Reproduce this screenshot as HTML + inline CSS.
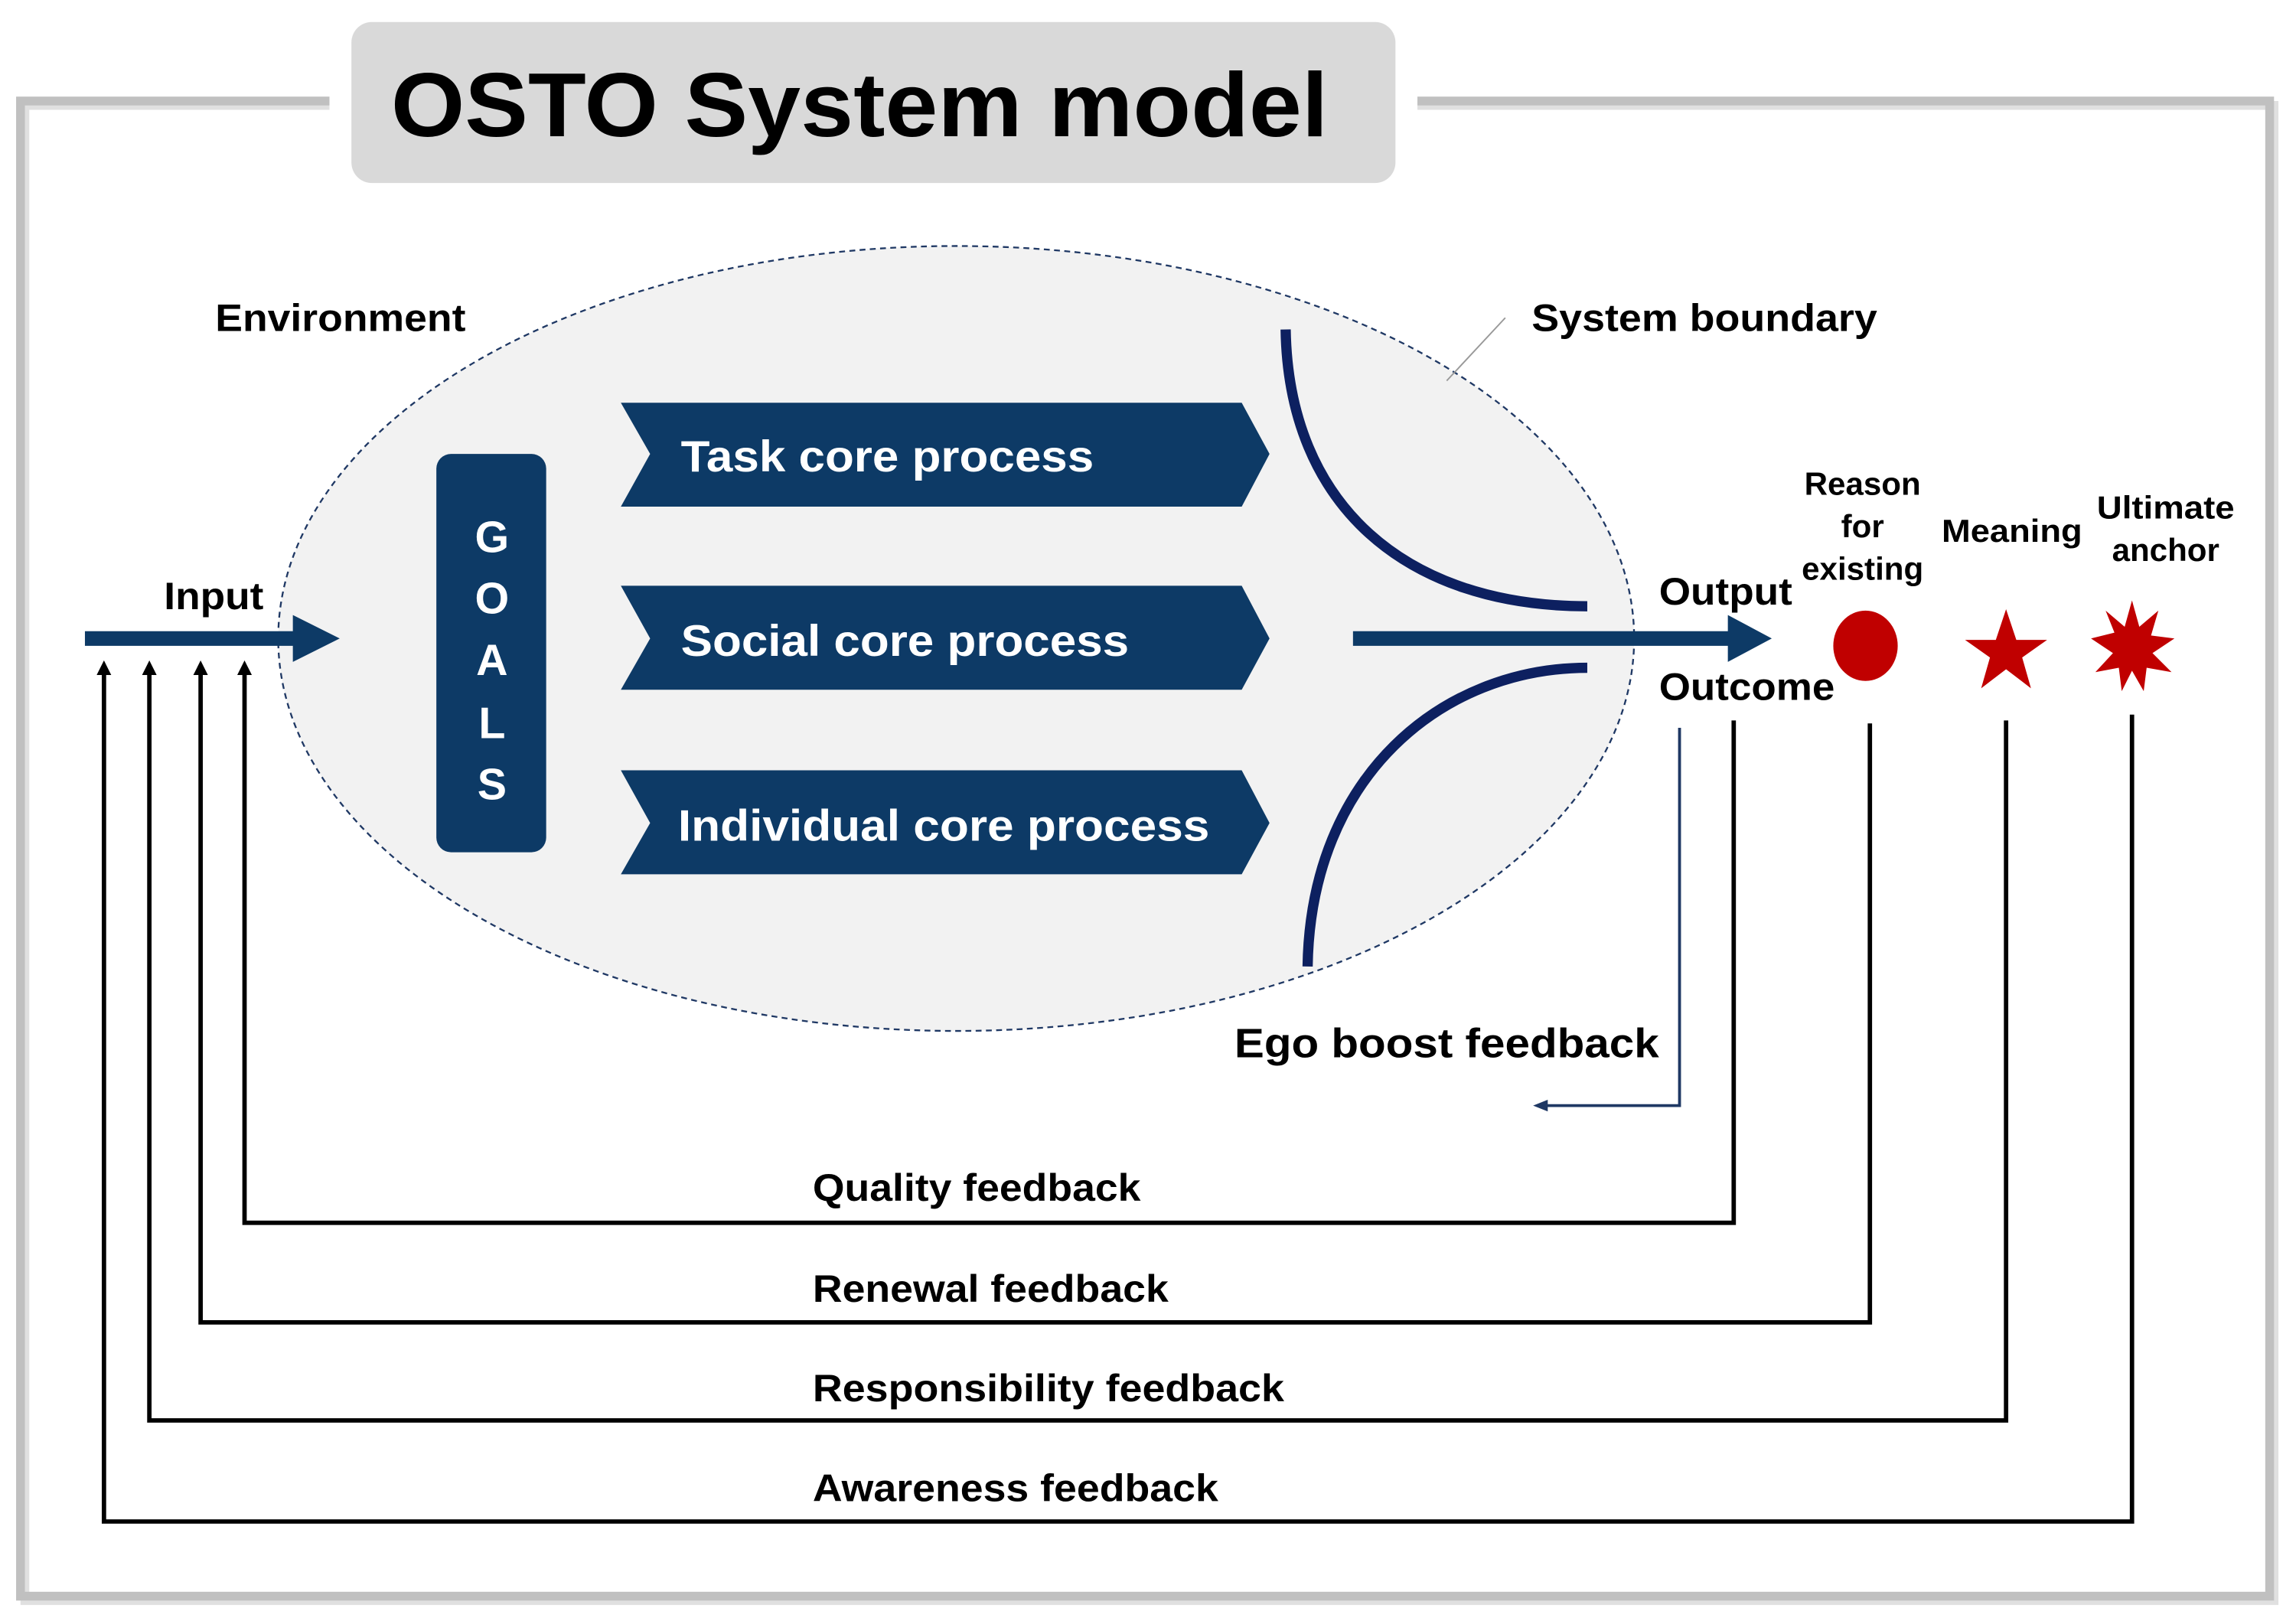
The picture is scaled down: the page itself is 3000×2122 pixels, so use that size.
<!DOCTYPE html>
<html><head><meta charset="utf-8"><style>
html,body{margin:0;padding:0;background:#fff;}
svg{display:block;}
text{font-family:"Liberation Sans",Arial,sans-serif;font-weight:bold;}
</style></head><body>
<svg width="3000" height="2122" viewBox="0 0 1568 1109" preserveAspectRatio="none" xmlns="http://www.w3.org/2000/svg">
<defs>
<marker id="ah" markerWidth="10" markerHeight="10" refX="5" refY="5" orient="auto" markerUnits="userSpaceOnUse">
<path d="M0,0 L10,5 L0,10 z" fill="#000"/></marker>
<marker id="ahb" markerWidth="10" markerHeight="8" refX="5" refY="4" orient="auto" markerUnits="userSpaceOnUse">
<path d="M0,0 L10,4 L0,8 z" fill="#1f3864"/></marker>
</defs>
<path d="M225 72 H17 V1093 H1553 V72 H968" fill="none" stroke="#e0e0e0" stroke-width="6"/>
<path d="M225 69 H14 V1090 H1550 V69 H968" fill="none" stroke="#c0c0c0" stroke-width="6"/>
<rect x="240" y="15" width="713" height="110" rx="14" fill="#d9d9d9"/>
<text x="267" y="93" font-size="62" fill="#000" textLength="640" lengthAdjust="spacingAndGlyphs">OSTO System model</text>
<ellipse cx="653" cy="436" rx="463" ry="268" fill="#f2f2f2" stroke="#1f3864" stroke-width="1.2" stroke-dasharray="4,3"/>
<rect x="298" y="310" width="75" height="272" rx="10" fill="#0d3a66"/>
<g fill="#fff" font-size="30" text-anchor="middle">
<text x="336" y="377">G</text><text x="336" y="419">O</text><text x="336" y="461">A</text><text x="336" y="504">L</text><text x="336" y="546">S</text>
</g>
<g fill="#0d3a66">
<path d="M424 275 H848 L867 310 L848 346 H424 L444 310 Z"/>
<path d="M424 400 H848 L867 436 L848 471 H424 L444 436 Z"/>
<path d="M424 526 H848 L867 562 L848 597 H424 L444 562 Z"/>
</g>
<g fill="#fff" font-size="30">
<text x="465" y="322" textLength="282" lengthAdjust="spacingAndGlyphs">Task core process</text>
<text x="465" y="448" textLength="306" lengthAdjust="spacingAndGlyphs">Social core process</text>
<text x="463" y="574" textLength="363" lengthAdjust="spacingAndGlyphs">Individual core process</text>
</g>
<path d="M878 225 C 880 345, 960 414, 1084 414" fill="none" stroke="#0d2060" stroke-width="7"/>
<path d="M1084 456 C 985 456, 895 530, 893 660" fill="none" stroke="#0d2060" stroke-width="7"/>
<path d="M924 431 H1180 V420 L1210 436 L1180 452 V441 H924 Z" fill="#0d3a66"/>
<path d="M58 431 H200 V420 L232 436 L200 452 V441 H58 Z" fill="#0d3a66"/>
<g fill="#000" font-size="26">
<text x="147" y="226" textLength="171" lengthAdjust="spacingAndGlyphs">Environment</text>
<text x="1046" y="226" textLength="236" lengthAdjust="spacingAndGlyphs">System boundary</text>
<text x="112" y="416" textLength="68" lengthAdjust="spacingAndGlyphs">Input</text>
<text x="1133" y="413" textLength="91" lengthAdjust="spacingAndGlyphs">Output</text>
<text x="1133" y="478" textLength="120" lengthAdjust="spacingAndGlyphs">Outcome</text>
</g>
<line x1="1028" y1="217" x2="988" y2="260" stroke="#999" stroke-width="1"/>
<g fill="#000" font-size="22" text-anchor="middle">
<text x="1272" y="338">Reason</text><text x="1272" y="367">for</text><text x="1272" y="396">existing</text>
<text x="1374" y="370" textLength="96" lengthAdjust="spacingAndGlyphs">Meaning</text>
<text x="1479" y="354" textLength="94" lengthAdjust="spacingAndGlyphs">Ultimate</text><text x="1479" y="383">anchor</text>
</g>
<ellipse cx="1274" cy="441" rx="22" ry="24" fill="#c00000"/>
<path d="M1370 416 L1377 437 L1398 437 L1381 449 L1387 470 L1370 457 L1353 470 L1359 449 L1342 437 L1363 437 Z" fill="#c00000"/>
<path d="M1456 410 L1461 428 L1474 417 L1469 434 L1485 436 L1470 446 L1483 459 L1466 456 L1464 472 L1456 458 L1449 472 L1447 456 L1431 459 L1443 446 L1428 436 L1444 432 L1438 417 L1451 428 Z" fill="#c00000"/>
<path d="M1147 497 V755 H1052" fill="none" stroke="#1f3864" stroke-width="2" marker-end="url(#ahb)"/>
<text x="843" y="722" font-size="28" fill="#000" textLength="290" lengthAdjust="spacingAndGlyphs">Ego boost feedback</text>
<g fill="none" stroke="#000" stroke-width="3">
<path d="M1184 492 V835 H167 V456" marker-end="url(#ah)"/>
<path d="M1277 494 V903 H137 V456" marker-end="url(#ah)"/>
<path d="M1370 492 V970 H102 V456" marker-end="url(#ah)"/>
<path d="M1456 488 V1039 H71 V456" marker-end="url(#ah)"/>
</g>
<g fill="#000" font-size="26">
<text x="555" y="820" textLength="224" lengthAdjust="spacingAndGlyphs">Quality feedback</text>
<text x="555" y="889" textLength="243" lengthAdjust="spacingAndGlyphs">Renewal feedback</text>
<text x="555" y="957" textLength="322" lengthAdjust="spacingAndGlyphs">Responsibility feedback</text>
<text x="555" y="1025" textLength="277" lengthAdjust="spacingAndGlyphs">Awareness feedback</text>
</g>
</svg>
</body></html>
